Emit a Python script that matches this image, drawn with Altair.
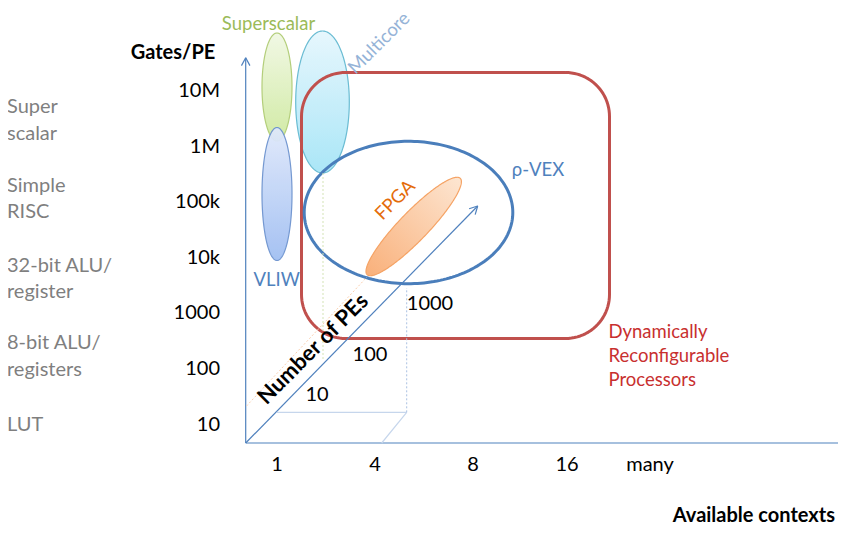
import numpy as np
import pandas as pd
import altair as alt

FONT = "Lato"

# ---------------- data (diagram units = page pixels) ----------------
# vertical axis: gates per processing element
gate_ticks = ["10M", "1M", "100k", "10k", "1000", "100", "10"]
gate_tick_y = [91, 147, 202, 258, 313, 369, 425]
# descriptive labels for the gate levels
pe_kinds = ["Super", "scalar", "Simple", "RISC", "32-bit ALU/", "register",
            "8-bit ALU/", "registers", "LUT"]
pe_kind_y = [107, 134, 186, 212, 266, 292, 343, 370, 425]
# horizontal axis: available contexts
context_ticks = ["1", "4", "8", "16", "many"]
context_tick_x = [277, 375, 473, 567, 650]
# diagonal axis: number of PEs
pe_count_ticks = ["10", "100", "1000"]
pe_count_x = [317, 370, 430]
pe_count_y = [395, 355, 304]

# architecture regions (axis-aligned ellipses)
region_names = ["Superscalar", "VLIW", "Multicore"]
region_cx = [277, 277, 322.5]
region_cy = [87, 194, 102]
region_rx = [15, 15, 26.8]
region_ry = [54, 66.5, 71]
region_top = ["#f1f8e4", "#e0e9fb", "#e6f7fd"]
region_bot = ["#cfeaa0", "#a1bff2", "#a6e5f7"]
region_line = ["#b0cc74", "#6d93cf", "#63b9d1"]

# FPGA (rotated ellipse)
fpga = dict(cx=413.7, cy=226.5, a=67, b=14.5, deg=46)
# rho-VEX ellipse
rvex = dict(cx=408.5, cy=212.5, rx=104.3, ry=71.2)
# dynamically reconfigurable processors box
drp = dict(x0=301.5, y0=72.5, x1=609.5, y1=338.5, r=44)

AXIS = "#4f81bd"
GUIDE = "#c6d6ec"

# ---------------- geometry helpers ----------------
def ellipse_area(cx, cy, rx, ry, n=120):
    t = np.linspace(np.pi, 0, n)
    return pd.DataFrame({"x": cx + rx * np.cos(t),
                         "y": cy - ry * np.sin(t),
                         "y2": cy + ry * np.sin(t)})


def rot_ellipse_area(cx, cy, a, b, deg, n=160):
    th = np.radians(deg)
    c, s = np.cos(th), np.sin(th)
    W = np.sqrt(a * a * c * c + b * b * s * s)
    u = W * np.cos(np.linspace(np.pi, 0, n))
    A = s * s / a ** 2 + c * c / b ** 2
    B = 2 * u * c * s * (1 / b ** 2 - 1 / a ** 2)
    C = u * u * (c * c / a ** 2 + s * s / b ** 2) - 1
    D = np.sqrt(np.clip(B * B - 4 * A * C, 0, None))
    return pd.DataFrame({"x": cx + u,
                         "y": cy + (-B - D) / (2 * A),
                         "y2": cy + (-B + D) / (2 * A)})


def ellipse_loop(cx, cy, rx, ry, n=200):
    t = np.linspace(0, 2 * np.pi, n)
    return pd.DataFrame({"x": cx + rx * np.cos(t), "y": cy + ry * np.sin(t),
                         "o": np.arange(n)})


def rounded_rect(x0, y0, x1, y1, r, n=24):
    corners = [(x1 - r, y0 + r, -90, 0), (x1 - r, y1 - r, 0, 90),
               (x0 + r, y1 - r, 90, 180), (x0 + r, y0 + r, 180, 270)]
    xs, ys = [], []
    for cx, cy, a0, a1 in corners:
        a = np.radians(np.linspace(a0, a1, n))
        xs.extend(cx + r * np.cos(a))
        ys.extend(cy + r * np.sin(a))
    xs.append(xs[0]); ys.append(ys[0])
    return pd.DataFrame({"x": xs, "y": ys, "o": np.arange(len(xs))})


def arrow_head(x0, y0, x1, y1, length=9, spread=28):
    d = np.array([x1 - x0, y1 - y0], float)
    d /= np.linalg.norm(d)
    rows = []
    for sgn in (1, -1):
        a = np.radians(sgn * spread)
        rx = d[0] * np.cos(a) - d[1] * np.sin(a)
        ry = d[0] * np.sin(a) + d[1] * np.cos(a)
        rows.append((x1, y1, x1 - length * rx, y1 - length * ry))
    return rows

# ---------------- scales ----------------
xs = alt.Scale(domain=[8, 838], nice=False, zero=False)
ys = alt.Scale(domain=[8, 527], nice=False, zero=False, reverse=True)


def X(f="x"):
    return alt.X(f"{f}:Q", scale=xs, axis=None)


def Y(f="y"):
    return alt.Y(f"{f}:Q", scale=ys, axis=None)

layers = []

# axis-aligned region ellipses
for i in range(len(region_names)):
    df = ellipse_area(region_cx[i], region_cy[i], region_rx[i], region_ry[i])
    grad = alt.Gradient(gradient="linear",
                        stops=[alt.GradientStop(color=region_top[i], offset=0),
                               alt.GradientStop(color=region_bot[i], offset=1)],
                        x1=0, x2=0, y1=0, y2=1)
    layers.append(alt.Chart(df).mark_area(fill=grad, stroke=region_line[i],
                                          strokeWidth=1.2, opacity=0.95)
                  .encode(x=X(), y=Y(), y2="y2:Q"))

# red box
layers.append(alt.Chart(rounded_rect(**drp)).mark_line(
    color="#c0504d", strokeWidth=3, strokeJoin="round")
    .encode(x=X(), y=Y(), order="o:Q"))

# rho-VEX ellipse
layers.append(alt.Chart(ellipse_loop(**rvex)).mark_line(
    color="#4a7ebb", strokeWidth=3).encode(x=X(), y=Y(), order="o:Q"))

# FPGA ellipse
fgrad = alt.Gradient(gradient="linear",
                     stops=[alt.GradientStop(color="#fde6d2", offset=0),
                            alt.GradientStop(color="#f9b07a", offset=1)],
                     x1=1, y1=0, x2=0, y2=1)
layers.append(alt.Chart(rot_ellipse_area(**fpga)).mark_area(
    fill=fgrad, stroke="#f5a365", strokeWidth=1.2).encode(x=X(), y=Y(), y2="y2:Q"))

# solid lines (axes, arrow heads, guide box)
solid = [
    (245.7, 443, 245.7, 57.7, AXIS, 1.2),
    (245.7, 443, 860, 443, AXIS, 1.2),
    (245.7, 443, 477.7, 206, AXIS, 1.2),
    (276.7, 412.3, 406.7, 412.3, GUIDE, 1.2),
    (406.7, 412.3, 381.7, 443, GUIDE, 1.2),
]
for (a, b, c, d) in arrow_head(245.7, 443, 245.7, 57.7):
    solid.append((a, b, c, d, AXIS, 1.2))
for (a, b, c, d) in arrow_head(245.7, 443, 477.7, 206):
    solid.append((a, b, c, d, AXIS, 1.2))
sdf = pd.DataFrame(solid, columns=["x", "y", "x2", "y2", "c", "w"])
layers.append(alt.Chart(sdf).mark_rule().encode(
    x=X(), y=Y(), x2="x2:Q", y2="y2:Q",
    color=alt.Color("c:N", scale=None), strokeWidth=alt.StrokeWidth("w:Q", scale=None)))

# dotted guide lines
dotted = [
    (406.7, 412.3, 406.7, 288, "#aac1e2"),
    (323, 173, 323, 360, "#d3e3b5"),
    (246.5, 406, 367, 277, "#fbcfae"),
]
ddf = pd.DataFrame(dotted, columns=["x", "y", "x2", "y2", "c"])
layers.append(alt.Chart(ddf).mark_rule(strokeDash=[2, 2], strokeWidth=1).encode(
    x=X(), y=Y(), x2="x2:Q", y2="y2:Q", color=alt.Color("c:N", scale=None)))

# ---------------- texts ----------------
def text_layer(df, align="center", weight="normal", baseline="middle"):
    return alt.Chart(df).mark_text(font=FONT, align=align, baseline=baseline,
                                   fontWeight=weight).encode(
        x=X(), y=Y(), text="t:N",
        color=alt.Color("c:N", scale=None),
        size=alt.Size("fs:Q", scale=None),
        angle=alt.Angle("ang:Q", scale=None))

kinds = pd.DataFrame({"x": 7, "y": pe_kind_y, "t": pe_kinds, "c": "#7f7f7f",
                      "fs": 20, "ang": 0})
layers.append(text_layer(kinds, align="left"))

gticks = pd.DataFrame({"x": 220, "y": gate_tick_y, "t": gate_ticks, "c": "#000000",
                       "fs": 20, "ang": 0})
layers.append(text_layer(gticks, align="right"))

cticks = pd.DataFrame({"x": context_tick_x, "y": 465, "t": context_ticks,
                       "c": "#000000", "fs": 20, "ang": 0})
layers.append(text_layer(cticks))

pticks = pd.DataFrame({"x": pe_count_x, "y": pe_count_y, "t": pe_count_ticks,
                       "c": "#000000", "fs": 20, "ang": 0})
layers.append(text_layer(pticks))

bold = pd.DataFrame({
    "x": [173, 313],
    "y": [53, 349],
    "t": ["Gates/PE", "Number of PEs"],
    "c": "#000000", "fs": [20, 22], "ang": [0, 315]})
layers.append(text_layer(bold, weight="bold"))

bold_r = pd.DataFrame({"x": [835], "y": [522], "t": ["Available contexts"],
                       "c": "#000000", "fs": [20], "ang": [0]})
layers.append(text_layer(bold_r, align="right", weight="bold", baseline="alphabetic"))

colored = pd.DataFrame({
    "x": [268.5, 379, 276.7, 395, 538],
    "y": [24, 43, 280, 200, 170],
    "t": ["Superscalar", "Multicore", "VLIW", "FPGA", "ρ-VEX"],
    "c": ["#9bbb59", "#95b3d7", "#4f81bd", "#e46c0a", "#4f81bd"],
    "fs": 18.5, "ang": [0, 315, 0, 315, 0]})
layers.append(text_layer(colored))

drp_lab = pd.DataFrame({"x": 608.5, "y": [332, 356, 380],
                        "t": ["Dynamically", "Reconfigurable", "Processors"],
                        "c": "#c8302f", "fs": 18.5, "ang": 0})
layers.append(text_layer(drp_lab, align="left"))

chart = alt.layer(*layers).properties(
    width=830, height=519, autosize=alt.AutoSizeParams(type="none"),
    padding=0, background="white"
).configure_view(stroke=None)

chart.save("out.html", embed_options={"renderer": "svg", "actions": False})
